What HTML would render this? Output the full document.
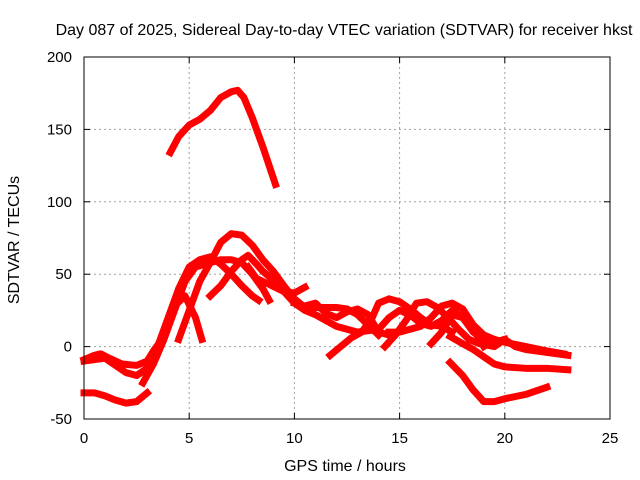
<!DOCTYPE html>
<html><head><meta charset="utf-8"><style>
body{margin:0;background:#fff;}
svg{display:block;font-family:"Liberation Sans",sans-serif;}
</style></head><body>
<svg width="640" height="480">
<rect width="640" height="480" fill="#fff"/>
<g id="grid"></g>
<g id="ticks"></g>
<g id="series"></g>
<rect x="84" y="57" width="526" height="362" fill="none" stroke="#000" stroke-width="1"/>
<text x="344" y="35" text-anchor="middle" font-size="16">Day 087 of 2025, Sidereal Day-to-day VTEC variation (SDTVAR) for receiver hkst</text>
<text x="345" y="471" text-anchor="middle" font-size="16">GPS time / hours</text>
<text transform="translate(19,240) rotate(-90)" text-anchor="middle" font-size="16">SDTVAR / TECUs</text>
</svg>
<script>
const xTicks=[0,5,10,15,20,25];
const yTicks=[-50,0,50,100,150,200];
const track1=[[4.1,134],[4.5,145],[5,153],[5.5,157],[6,163],[6.5,172],[7,176],[7.3,177],[7.6,172],[8,158],[8.5,138],[9.1,112]];
const track2=[[0,-32],[0.5,-32],[1,-34],[1.5,-37],[2,-39],[2.5,-38],[3,-32]];
const track3=[[0,-9],[0.5,-6],[0.8,-5],[1.2,-8],[1.8,-12],[2.5,-13],[3,-10],[3.3,-3],[3.7,5],[4,15],[4.3,28],[4.8,35],[5.3,20],[5.6,5]];
const track4=[[0,-10],[1,-8],[2,-18],[2.5,-20],[3,-15],[3.5,0],[4,20],[4.5,40],[5,55],[5.5,60],[6,62],[6.5,57],[7,50],[7.5,42],[8,35],[8.3,32]];
const track5=[[2.8,-25],[3.3,-12],[3.8,5],[4.3,25],[4.8,45],[5.3,55],[6,58],[6.5,60],[7,60],[7.5,58],[8,50],[8.5,40],[8.8,32]];
const track6=[[4.5,5],[5,25],[5.5,45],[6,58],[6.5,72],[7,78],[7.5,77],[8,70],[8.5,60],[9,52],[9.5,42],[10,33],[10.5,27],[11,27],[12,27],[12.5,26],[13,22],[13.5,15],[14,8]];
const track7=[[6,35],[6.5,42],[7,52],[7.5,60],[7.8,63],[8.2,57],[8.5,52],[9,46],[9.5,38],[10,30],[10.5,25],[11,22],[11.5,18],[12,14],[12.5,12],[13,10],[14,12],[14.5,20],[15,25],[15.5,22],[16,16],[16.5,14],[17,18],[17.5,25],[18,20],[18.5,10],[19,5],[19.5,3],[20,5]];
const track8=[[7.8,55],[8.2,47],[8.8,43],[9.5,38],[10,37],[10.5,41]];
const track9=[[10,30],[10.5,28],[11,30],[11.5,23],[12,20],[12.5,24],[13,26],[13.5,22],[14,10],[14.5,8]];
const track10=[[11.7,-6],[12.2,0],[12.7,6],[13.2,10],[13.7,20],[14,30],[14.5,33],[15,31],[15.5,26],[16,20],[16.5,15],[17,14],[17.5,10]];
const track11=[[14.3,0],[14.8,8],[15.3,18],[15.8,30],[16.3,31],[16.8,27],[17.3,20],[17.8,12],[18.3,5],[18.8,2],[19.5,0],[20,5],[20.5,0],[21,-2],[22,-4],[23,-6]];
const track12=[[14.5,10],[15,10],[16,14],[16.5,20],[17,28],[17.5,30],[18,26],[18.5,15],[19,8],[19.5,5],[20,3],[21,0],[22,-3],[22.8,-5]];
const track13=[[16.5,2],[17,10],[17.5,22],[18,20],[18.5,12],[19,0]];
const track14=[[17.4,7],[18,2],[18.5,-2],[19,-7],[19.5,-12],[20,-14],[21,-15],[22,-15],[23,-16]];
const track15=[[17.4,-11],[18,-20],[18.5,-30],[19,-38],[19.5,-38],[20,-36],[21,-33],[22,-28]];
const tracks=[track1,track2,track3,track4,track5,track6,track7,track8,track9,track10,track11,track12,track13,track14,track15];
const X0=84,X1=610,Y0=419,Y1=57;
const xs=v=>X0+(v-0)/25*(X1-X0);
const ys=v=>Y0-(v+50)/250*(Y0-Y1);
const NS='http://www.w3.org/2000/svg';
const grid=document.getElementById('grid'),ticks=document.getElementById('ticks'),series=document.getElementById('series');
function mk(t,a,p){const e=document.createElementNS(NS,t);for(const k in a)e.setAttribute(k,a[k]);p.appendChild(e);return e;}
xTicks.forEach(v=>{const x=xs(v);
 if(v>0&&v<25){const g=mk('line',{x1:x,x2:x,y1:Y0,y2:Y1,stroke:'#a0a0a0','stroke-dasharray':'2,3'},grid);}
 mk('line',{x1:x,x2:x,y1:Y0,y2:Y0-6,stroke:'#000'},ticks);mk('line',{x1:x,x2:x,y1:Y1,y2:Y1+6,stroke:'#000'},ticks);
 const t=mk('text',{x:x,y:443,'text-anchor':'middle','font-size':'15'},ticks);t.textContent=v;
 });
yTicks.forEach(v=>{const y=ys(v);
 if(v>-50&&v<200){const g=mk('line',{x1:X0,x2:X1,y1:y,y2:y,stroke:'#a0a0a0','stroke-dasharray':'2,3'},grid);}
 mk('line',{x1:X0,x2:X0+6,y1:y,y2:y,stroke:'#000'},ticks);mk('line',{x1:X1,x2:X1-6,y1:y,y2:y,stroke:'#000'},ticks);
 const t=mk('text',{x:72,y:y+5,'text-anchor':'end','font-size':'15'},ticks);t.textContent=v;
 });
tracks.forEach((tr,i)=>{
 const p=mk('polyline',{points:tr.map(d=>xs(d[0])+','+ys(d[1])).join(' '),fill:'none',stroke:'#ff0000','stroke-width':'7','stroke-linejoin':'round','stroke-linecap':'square'},series);
 
 });
</script>
</body></html>
